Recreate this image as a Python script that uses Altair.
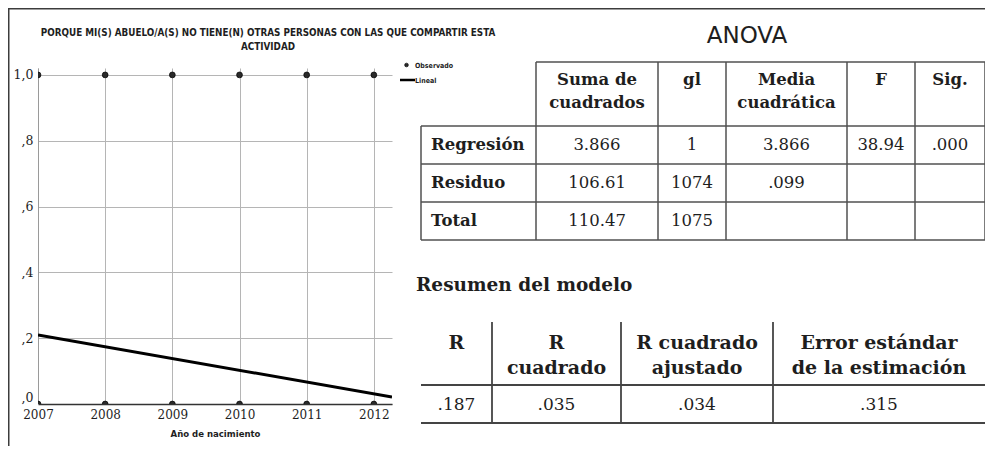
import altair as alt
import pandas as pd

# ---------------- data ----------------
years = [2007, 2008, 2009, 2010, 2011, 2012]
observed_levels = [0.0, 1.0]
fit_years = [2007.0, 2012.27]
fit_values = [0.210, 0.021]
y_ticks = [0.0, 0.2, 0.4, 0.6, 0.8, 1.0]
x_domain = [2007.0, 2012.27]
y_domain = [0.0, 1.021]

title_lines = ["PORQUE MI(S) ABUELO/A(S) NO TIENE(N) OTRAS PERSONAS CON LAS QUE COMPARTIR ESTA",
               "ACTIVIDAD"]
x_title = "Año de nacimiento"
legend_labels = ["Observado", "Lineal"]

anova_title = "ANOVA"
anova_header = [["Suma de", "cuadrados"], ["gl"], ["Media", "cuadrática"], ["F"], ["Sig."]]
anova_row_labels = ["Regresión", "Residuo", "Total"]
anova_cells = [
    ["3.866", "1", "3.866", "38.94", ".000"],
    ["106.61", "1074", ".099", "", ""],
    ["110.47", "1075", "", "", ""],
]

summary_title = "Resumen del modelo"
summary_header = [["R"], ["R", "cuadrado"], ["R cuadrado", "ajustado"], ["Error estándar", "de la estimación"]]
summary_cells = [".187", ".035", ".034", ".315"]

# ---------------- layout (page pixels) ----------------
MARGIN = 8
CHART_W, CHART_H = 977, 438
VIEW_L, VIEW_T, VIEW_W, VIEW_H = 38, 68, 354, 336
PAD = {"left": VIEW_L - MARGIN, "top": VIEW_T - MARGIN,
       "right": CHART_W - (VIEW_L - MARGIN) - VIEW_W,
       "bottom": CHART_H - (VIEW_T - MARGIN) - VIEW_H}

SERIF = "DejaVu Serif"
NARROW = "DejaVu Sans Condensed, Liberation Sans, sans-serif"
SANS = "DejaVu Sans"
INK = "#1e1e1e"

anova_col_edges = [421, 536, 658, 726, 847, 915, 985]
anova_row_edges = [62, 126, 164, 202, 240]
anova_head_y = [80, 103]
anova_title_pos = (747, 36)

summary_title_pos = (416, 285)
summary_col_edges = [421, 492, 621, 773, 985]
summary_top, summary_mid, summary_bot = 322, 385, 423
summary_head_y = [343, 368]
summary_val_y = 405

title_pos = (268, [33, 47])
legend_pos = {"dot": (406.5, 65), "line": (400, 415, 80), "text_x": 415, "text_y": [65.5, 81]}


def page_x(field):
    return alt.X(field, scale=alt.Scale(domain=[MARGIN, MARGIN + CHART_W],
                                        range=[MARGIN - VIEW_L, MARGIN + CHART_W - VIEW_L],
                                        nice=False, zero=False), axis=None)


def page_y(field):
    return alt.Y(field, scale=alt.Scale(domain=[MARGIN, MARGIN + CHART_H],
                                        range=[MARGIN - VIEW_T, MARGIN + CHART_H - VIEW_T],
                                        nice=False, zero=False), axis=None)


def text_layer(rows, **kw):
    df = pd.DataFrame(rows, columns=["x", "y", "text"])
    return alt.Chart(df).mark_text(color=INK, baseline="middle", **kw).encode(
        x=page_x("x:Q"), y=page_y("y:Q"), text="text:N")


def rule_layer(segs, color, width):
    df = pd.DataFrame(segs, columns=["x1", "y1", "x2", "y2"])
    return alt.Chart(df).mark_rule(color=color, strokeWidth=width).encode(
        x=page_x("x1:Q"), x2="x2:Q", y=page_y("y1:Q"), y2="y2:Q")


# ---------------- main plot ----------------
xs = alt.Scale(domain=x_domain, nice=False, zero=False)
ys = alt.Scale(domain=y_domain, nice=False, zero=False)
x_axis = alt.Axis(values=years, format="d", title=x_title, ticks=False, grid=True,
                  gridColor="#b5b5b5", gridWidth=1, domainColor="#333333", domainWidth=1.6,
                  labelFont=SERIF, labelFontSize=12, labelColor=INK, labelPadding=5,
                  labelFlush=False, labelOverlap=False,
                  titleFont=NARROW, titleFontSize=9.5, titleFontWeight="bold", titleColor=INK,
                  titlePadding=8)
y_axis = alt.Axis(values=y_ticks,
                  labelExpr="datum.value >= 1 ? '1,0' : ',' + format(datum.value * 10, 'd')",
                  labelBaseline={"condition": {"test": "datum.value === 0", "value": "bottom"},
                                 "value": "middle"},
                  title=None, ticks=False, grid=True, gridColor="#b5b5b5", gridWidth=1,
                  domainColor="#9a9a9a", domainWidth=1, labelFont=SERIF, labelFontSize=12.5,
                  labelColor=INK, labelPadding=5, labelFlush=False, labelOverlap=False)

obs_df = pd.DataFrame([{"year": y, "level": l} for y in years for l in observed_levels])
fit_df = pd.DataFrame({"year": fit_years, "level": fit_values})

fit_line = alt.Chart(fit_df).mark_line(color="black", strokeWidth=3, clip=True).encode(
    x=alt.X("year:Q", scale=xs, axis=x_axis), y=alt.Y("level:Q", scale=ys, axis=y_axis))
obs_points = alt.Chart(obs_df).mark_circle(size=34, color="#2a2a2a", opacity=1, stroke="#000",
                                           strokeWidth=0.7, clip=True).encode(
    x=alt.X("year:Q", scale=xs, axis=x_axis), y=alt.Y("level:Q", scale=ys, axis=y_axis))
main = alt.layer(fit_line, obs_points)

# ---------------- frame, title, legend ----------------
frame = rule_layer([(MARGIN, 8.5, MARGIN + CHART_W, 8.5), (8.5, MARGIN, 8.5, MARGIN + CHART_H)],
                   "#3c3c3c", 2)
title_txt = text_layer([(title_pos[0], title_pos[1][i], t) for i, t in enumerate(title_lines)],
                       font=NARROW, fontSize=9.8, fontWeight="bold", align="center")

leg_dot = alt.Chart(pd.DataFrame([{"x": legend_pos["dot"][0], "y": legend_pos["dot"][1]}])).mark_circle(
    size=14, color="#2a2a2a", opacity=1, stroke="#000", strokeWidth=0.6).encode(
    x=page_x("x:Q"), y=page_y("y:Q"))
leg_line = rule_layer([(legend_pos["line"][0], legend_pos["line"][2],
                        legend_pos["line"][1], legend_pos["line"][2])], "black", 2.5)
leg_txt = text_layer([(legend_pos["text_x"], legend_pos["text_y"][i], t)
                      for i, t in enumerate(legend_labels)],
                     font=NARROW, fontSize=7, fontWeight="bold", align="left")

# ---------------- ANOVA table ----------------
ce, re_ = anova_col_edges, anova_row_edges
anova_segs = [(ce[1], re_[0], ce[-1], re_[0])]
anova_segs += [(ce[0], y, ce[-1], y) for y in re_[1:]]
anova_segs += [(x, re_[0], x, re_[-1]) for x in ce[1:]]
anova_segs += [(ce[0], re_[1], ce[0], re_[-1])]
anova_lines = rule_layer(anova_segs, "#505050", 1.5)

anova_ttl = text_layer([(anova_title_pos[0], anova_title_pos[1], anova_title)],
                       font=SANS, fontSize=23, align="center")
head_rows = []
for i, lines in enumerate(anova_header):
    cx = (ce[i + 1] + ce[i + 2]) / 2
    for j, t in enumerate(lines):
        head_rows.append((cx, anova_head_y[j], t))
anova_head = text_layer(head_rows, font=SERIF, fontSize=16.5, fontWeight="bold", align="center")
anova_lab = text_layer([(ce[0] + 10, (re_[r + 1] + re_[r + 2]) / 2, t)
                        for r, t in enumerate(anova_row_labels)],
                       font=SERIF, fontSize=16.5, fontWeight="bold", align="left")
val_rows = []
for r, row in enumerate(anova_cells):
    for c, v in enumerate(row):
        if v:
            val_rows.append(((ce[c + 1] + ce[c + 2]) / 2, (re_[r + 1] + re_[r + 2]) / 2, v))
anova_vals = text_layer(val_rows, font=SERIF, fontSize=16.5, align="center")

# ---------------- Resumen del modelo ----------------
se = summary_col_edges
sum_segs = [(x, summary_top, x, summary_bot) for x in se[1:-1]]
sum_segs += [(se[0], summary_mid, se[-1], summary_mid), (se[0], summary_bot, se[-1], summary_bot)]
sum_lines = rule_layer(sum_segs, "#444444", 1.8)
sum_ttl = text_layer([(summary_title_pos[0], summary_title_pos[1], summary_title)],
                     font=SERIF, fontSize=18.5, fontWeight="bold", align="left")
sh_rows = []
for i, lines in enumerate(summary_header):
    cx = (se[i] + se[i + 1]) / 2
    for j, t in enumerate(lines):
        sh_rows.append((cx, summary_head_y[j], t))
sum_head = text_layer(sh_rows, font=SERIF, fontSize=19, fontWeight="bold", align="center")
sum_vals = text_layer([((se[i] + se[i + 1]) / 2, summary_val_y, v) for i, v in enumerate(summary_cells)],
                      font=SERIF, fontSize=17, align="center")

chart = alt.layer(
    main, frame, title_txt, leg_dot, leg_line, leg_txt,
    anova_lines, anova_ttl, anova_head, anova_lab, anova_vals,
    sum_lines, sum_ttl, sum_head, sum_vals,
).resolve_scale(x="independent", y="independent").properties(
    width=VIEW_W, height=VIEW_H, padding=PAD,
    autosize=alt.AutoSizeParams(type="none"),
    background="white",
).configure_view(stroke=None)

chart.save("out.html", embed_options={"renderer": "svg", "actions": False})
